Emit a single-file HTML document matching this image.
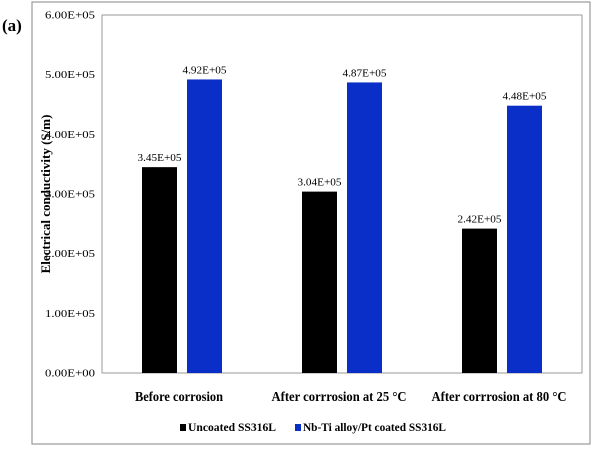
<!DOCTYPE html>
<html><head><meta charset="utf-8"><style>
body{margin:0;background:#fff;}
svg{display:block;font-family:"Liberation Serif",serif;}
</style></head><body>
<svg width="600" height="452" viewBox="0 0 600 452">
<rect x="32" y="2" width="558" height="442" fill="#fff" stroke="#9a9a9a" stroke-width="1.2"/>
<text x="2" y="31" font-size="17" font-weight="bold">(a)</text>
<rect x="102" y="15" width="480" height="358" fill="#fff" stroke="#9a9a9a" stroke-width="1"/>
<text transform="translate(50,194) rotate(-90)" text-anchor="middle" font-size="13" font-weight="bold">Electrical conductivity (S/m)</text>
<g id="yticks"></g>
<g id="bars"></g>
<g id="cats"></g>
<g>
<rect x="180" y="424" width="6" height="7" fill="#000"/>
<text x="188" y="431" font-size="11.5" font-weight="bold" textLength="88" lengthAdjust="spacingAndGlyphs">Uncoated SS316L</text>
<rect x="295" y="424" width="6" height="7" fill="#0a2fc8"/>
<text x="303" y="431" font-size="11.5" font-weight="bold" textLength="143" lengthAdjust="spacingAndGlyphs">Nb-Ti alloy/Pt coated SS316L</text>
</g>
</svg>
<script>
const categories=["Before corrosion","After corrrosion at 25 °C","After corrrosion at 80 °C"];
const uncoated=[3.45e5,3.04e5,2.42e5];
const coated=[4.92e5,4.87e5,4.48e5];
const uncoatedLabels=["3.45E+05","3.04E+05","2.42E+05"];
const coatedLabels=["4.92E+05","4.87E+05","4.48E+05"];
const yTicks=[0,1e5,2e5,3e5,4e5,5e5,6e5];
const yTickLabels=["0.00E+00","1.00E+05","2.00E+05","3.00E+05","4.00E+05","5.00E+05","6.00E+05"];
const NS="http://www.w3.org/2000/svg";
const X0=102,X1=582,Y0=373,Y1=15,YMAX=6e5;
const y=v=>Y0-(v/YMAX)*(Y0-Y1);
const band=(X1-X0)/categories.length;
const cx=i=>X0+band*(i+0.5);
function mk(tag,attrs,parent,txt){const e=document.createElementNS(NS,tag);for(const k in attrs)e.setAttribute(k,attrs[k]);if(txt!==undefined)e.textContent=txt;parent.appendChild(e);return e;}
const yt=document.getElementById('yticks');
yTicks.forEach((v,i)=>{const t=mk('text',{x:95,y:y(v)+3.5,'text-anchor':'end','font-size':10,textLength:50,lengthAdjust:'spacingAndGlyphs'},yt,yTickLabels[i]);

});
const bg=document.getElementById('bars');
const bw=35;
categories.forEach((c,i)=>{
 const b1=mk('rect',{x:cx(i)-40,y:y(uncoated[i]),width:bw,height:Y0-y(uncoated[i]),fill:'#000'},bg);
 
 
 const b2=mk('rect',{x:cx(i)+5,y:y(coated[i]),width:bw,height:Y0-y(coated[i]),fill:'#0a2fc8'},bg);
 
 
 const l1=mk('text',{x:cx(i)-40+bw/2,y:y(uncoated[i])-6,'text-anchor':'middle','font-size':10,textLength:44,lengthAdjust:'spacingAndGlyphs'},bg,uncoatedLabels[i]);
 
 
 const l2=mk('text',{x:cx(i)+5+bw/2,y:y(coated[i])-6,'text-anchor':'middle','font-size':10,textLength:44,lengthAdjust:'spacingAndGlyphs'},bg,coatedLabels[i]);
 
 
});
const cg=document.getElementById('cats');
categories.forEach((c,i)=>{
 const t=mk('text',{x:cx(i)-3,y:401,'text-anchor':'middle','font-size':14,'font-weight':'bold',textLength:i==0?88:135,lengthAdjust:'spacingAndGlyphs'},cg,c);
 
 
});
</script>
</body></html>
